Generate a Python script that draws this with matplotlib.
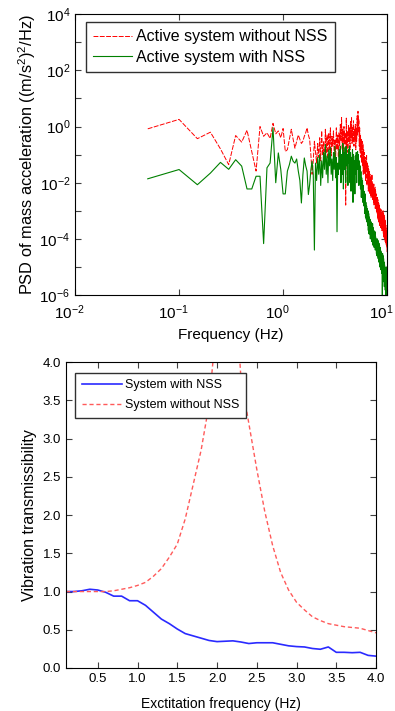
import numpy as np
import matplotlib.pyplot as plt
import matplotlib.transforms as mtransforms
from matplotlib.ticker import FixedLocator, NullLocator, LogFormatterSciNotation

plt.rcParams['font.family'] = ['Liberation Sans', 'DejaVu Sans']
plt.rcParams['mathtext.fontset'] = 'custom'
plt.rcParams['mathtext.rm'] = 'Liberation Sans'

# PSD data, sampled every 0.05 Hz from 0.05 to 10 Hz
freq = np.arange(1, 201) * 0.05
psd_without = [
    0.83, 1.8, 0.37, 0.63, 0.16, 0.044, 0.48, 0.28, 0.74, 0.13,
    0.026, 1.0, 0.45, 0.6, 0.38, 1.3, 0.55, 0.7, 0.4, 0.85,
    0.13, 0.15, 0.35, 0.8, 0.35, 0.17, 0.3, 0.5, 0.35, 0.25,
    0.3, 0.45, 0.6, 0.9, 0.5, 0.35, 0.1, 0.02, 0.06, 0.3,
    0.12, 0.05, 0.25, 0.08, 0.4, 0.06, 0.7, 0.1, 0.3, 0.05,
    0.8, 0.12, 0.5, 0.07, 0.6, 0.15, 0.9, 0.09, 0.45, 0.2,
    0.7, 0.1, 0.35, 0.06, 0.9, 0.15, 0.5, 0.08, 0.6, 0.2,
    1.2, 0.3, 2.1, 0.15, 0.8, 0.1, 1.0, 0.25, 0.6, 0.0016,
    2.0, 0.2, 0.7, 0.12, 1.1, 0.3, 0.9, 0.15, 1.5, 0.4,
    2.2, 0.25, 1.0, 0.3, 1.6, 0.2, 0.8, 0.35, 1.2, 0.15,
    0.9, 0.3, 2.4, 0.5, 3.5, 0.6, 1.8, 0.2, 0.9, 0.12,
    0.5, 0.08, 0.35, 0.05, 0.3, 0.04, 0.25, 0.02, 0.15, 0.03,
    0.12, 0.02, 0.08, 0.012, 0.06, 0.03, 0.1, 0.008, 0.05, 0.01,
    0.04, 0.005, 0.03, 0.006, 0.025, 0.004, 0.02, 0.005, 0.015, 0.003,
    0.012, 0.004, 0.02, 0.003, 0.01, 0.0025, 0.008, 0.002, 0.009, 0.0015,
    0.006, 0.002, 0.007, 0.0012, 0.005, 0.0015, 0.004, 0.001, 0.003, 0.0008,
    0.003, 0.0006, 0.0025, 0.0005, 0.002, 0.0004, 0.0018, 0.0004, 0.0015, 0.0003,
    0.0012, 0.00035, 0.001, 0.00025, 0.0011, 0.0003, 0.0009, 0.0002, 0.0008, 0.00025,
    0.0009, 0.0002, 0.001, 0.00015, 0.0008, 0.00012, 0.0007, 0.0001, 0.0006, 0.0001,
    0.0005, 8e-5, 0.0004, 7e-5, 0.0003, 6e-5, 0.0002, 5e-5, 0.00015, 3e-5,
]
psd_with = [
    0.0138, 0.0295, 0.0085, 0.022, 0.053, 0.03, 0.066, 0.039, 0.006, 0.006,
    0.017, 0.017, 6.8e-5, 0.034, 0.05, 0.9, 0.01, 0.115, 0.03, 0.004,
    0.004, 0.026, 0.044, 0.088, 0.058, 0.05, 0.07, 0.026, 0.012, 0.0019,
    0.019, 0.076, 0.04, 0.026, 0.0038, 0.0086, 0.029, 0.058, 0.02, 4e-5,
    0.05, 0.012, 0.08, 0.02, 0.1, 0.008, 0.06, 0.015, 0.12, 0.03,
    0.23, 0.02, 0.09, 0.01, 0.15, 0.04, 0.18, 0.02, 0.07, 0.012,
    0.12, 0.03, 0.2, 0.015, 0.08, 0.00018, 0.05, 0.02, 0.15, 0.03,
    0.2, 0.01, 0.1, 0.02, 0.25, 0.006, 0.12, 0.03, 0.18, 0.01,
    0.2, 0.04, 0.1, 0.008, 0.15, 0.05, 0.2, 0.01, 0.12, 0.005,
    0.08, 0.03, 0.15, 0.002, 0.1, 0.015, 0.06, 0.004, 0.09, 0.02,
    0.12, 0.01, 0.09, 0.13, 0.03, 0.1, 0.008, 0.06, 0.01, 0.04,
    0.006, 0.025, 0.003, 0.015, 0.004, 0.012, 0.002, 0.008, 0.0015, 0.005,
    0.003, 0.0008, 0.004, 0.0006, 0.002, 0.0005, 0.0015, 0.0004, 0.0012, 0.0003,
    0.001, 0.0002, 0.0008, 0.00015, 0.0006, 0.00015, 0.0005, 0.0001, 0.0004, 0.00012,
    0.0004, 8e-5, 0.0003, 0.0001, 0.00035, 6e-5, 0.00025, 8e-5, 0.0002, 5e-5,
    0.00015, 6e-5, 0.00018, 4e-5, 0.00012, 5e-5, 0.0001, 3e-5, 9e-5, 2.5e-5,
    0.0001, 3e-5, 9e-5, 2e-5, 8e-5, 1.5e-5, 7e-5, 2e-5, 6e-5, 1e-5,
    5e-5, 1.2e-5, 4e-5, 8e-6, 3.5e-5, 1e-5, 3e-5, 6e-6, 2.5e-5, 5e-7,
    3e-5, 5e-6, 2.5e-5, 3e-6, 2e-5, 4e-6, 1.5e-5, 2e-6, 1.2e-5, 3e-6,
    1e-5, 1.5e-6, 8e-6, 5e-7, 6e-6, 2e-6, 1e-5, 1e-6, 8e-6, 4e-6,
]

# transmissibility data
exc_freq = [0.1, 0.2, 0.3, 0.4, 0.5, 0.6, 0.7, 0.8, 0.9, 1.0,
            1.1, 1.2, 1.3, 1.4, 1.5, 1.6, 1.7, 1.8, 1.9, 2.0,
            2.1, 2.2, 2.3, 2.4, 2.5, 2.6, 2.7, 2.8, 2.9, 3.0,
            3.1, 3.2, 3.3, 3.4, 3.5, 3.6, 3.7, 3.8, 3.9, 4.0]
tr_with = [1.0, 1.0, 1.01, 1.03, 1.02, 0.99, 0.94, 0.94, 0.88, 0.88,
           0.82, 0.73, 0.64, 0.58, 0.51, 0.45, 0.42, 0.39, 0.36, 0.345,
           0.35, 0.355, 0.34, 0.32, 0.33, 0.33, 0.33, 0.31, 0.29, 0.28,
           0.275, 0.255, 0.245, 0.275, 0.205, 0.205, 0.2, 0.205, 0.165, 0.155]
tr_without = [1.0, 1.0, 1.0, 1.0, 1.0, 1.0, 1.01, 1.03, 1.05, 1.08,
              1.12, 1.2, 1.3, 1.45, 1.62, 1.95, 2.4, 2.85, 3.45, 4.6,
              6.5, 5.5, 3.8, 3.2, 2.6, 2.05, 1.6, 1.25, 1.02, 0.86,
              0.76, 0.67, 0.62, 0.58, 0.56, 0.54, 0.53, 0.52, 0.49, 0.46]

fig = plt.figure(figsize=(3.95, 7.11), dpi=100)

# top: PSD
ax1 = fig.add_axes([0.19, 0.585, 0.79, 0.395])
ax1.loglog(freq, psd_without, color='red', lw=0.7, dashes=(5, 1.5),
           label='Active system without NSS')
ax1.loglog(freq, psd_with, color='#008000', lw=0.8, label='Active system with NSS')
ax1.set_xlim(1e-2, 1e1)
ax1.set_ylim(1e-6, 1e4)
ax1.xaxis.set_major_locator(FixedLocator([1e-2, 1e-1, 1e0, 1e1]))
ax1.yaxis.set_major_locator(FixedLocator([10.0 ** k for k in range(-6, 5)]))
ax1.xaxis.set_minor_locator(NullLocator())
ax1.yaxis.set_minor_locator(NullLocator())
fmt = LogFormatterSciNotation()
ax1.yaxis.set_major_formatter(plt.FuncFormatter(
    lambda v, p: fmt(v) if round(np.log10(v)) % 2 == 0 else ''))
ax1.tick_params(which='both', direction='in', top=True, right=True,
                labelsize=11, length=4, color='#404040')
ax1.tick_params(axis='x', pad=6)
# nudge x tick labels a bit left so 10^1 stays inside the figure
shift = mtransforms.ScaledTranslation(-4 / 72, 0, fig.dpi_scale_trans)
for lab in ax1.get_xticklabels():
    lab.set_transform(lab.get_transform() + shift)
ax1.set_xlabel('Frequency (Hz)', fontsize=11, labelpad=4)
ax1.set_ylabel('PSD of mass acceleration ((m/s$^2$)$^2$/Hz)', fontsize=11.8, labelpad=1)
ax1.legend(loc='upper left', bbox_to_anchor=(0.01, 1.0), fontsize=11.5,
           fancybox=False, edgecolor='#303030', framealpha=1,
           handlelength=2.4, handletextpad=0.3, borderpad=0.45, labelspacing=0.35)

# bottom: transmissibility
ax2 = fig.add_axes([0.167, 0.0605, 0.785, 0.430])
ax2.plot(exc_freq, tr_with, color='#2a2aff', lw=1.2, label='System with NSS')
ax2.plot(exc_freq, tr_without, color='#ff5a5a', lw=1.0, dashes=(3, 2),
         label='System without NSS')
ax2.set_xlim(0.1, 4.0)
ax2.set_ylim(0, 4)
ax2.set_xticks([0.5, 1.0, 1.5, 2.0, 2.5, 3.0, 3.5, 4.0])
ax2.set_yticks(np.arange(0, 4.01, 0.5))
ax2.xaxis.set_major_formatter(plt.FormatStrFormatter('%.1f'))
ax2.yaxis.set_major_formatter(plt.FormatStrFormatter('%.1f'))
ax2.tick_params(direction='in', top=True, right=True, labelsize=9.5,
                length=4, color='#404040')
ax2.set_xlabel('Exctitation frequency (Hz)', fontsize=10, labelpad=9)
ax2.set_ylabel('Vibration transmissibility', fontsize=11.5, labelpad=4)
ax2.legend(loc='upper left', bbox_to_anchor=(0.01, 0.985), fontsize=9,
           fancybox=False, edgecolor='#303030', framealpha=1,
           handlelength=3.2, handletextpad=0.3, borderpad=0.5, labelspacing=0.65)

fig.savefig('out.png', dpi=100)
